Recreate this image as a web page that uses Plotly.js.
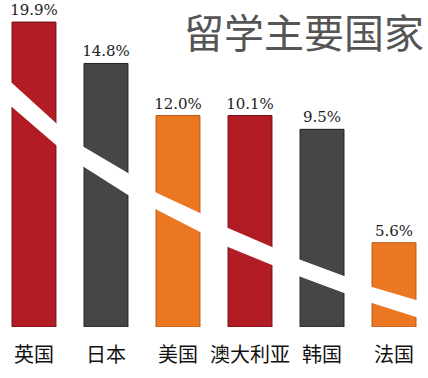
<!DOCTYPE html>
<html><head><meta charset="utf-8">
<script src="https://cdn.plot.ly/plotly-3.0.1.min.js"></script>
<style>html,body{margin:0;padding:0;background:#fff}#chart{width:428px;height:378px}</style>
</head><body><div id="chart"></div>
<script>
// Data
const categories = ['英国','日本','美国','澳大利亚','韩国','法国'];
const shareLabels = ['19.9%','14.8%','12.0%','10.1%','9.5%','5.6%'];
// Visual bar heights as drawn in the infographic (not proportional to labels)
const barHeights = [19.9, 17.2, 13.8, 13.8, 12.9, 5.5];
const barColors = ['#b21d25','#464646','#ec7722','#b21d25','#464646','#ec7722'];
const barLines = ['#6e0f14','#1e1e1e','#b85a16','#6e0f14','#1e1e1e','#b85a16'];
// Decorative white band crossing the bars
const bandX = [-0.47,-0.306,0.306,0.694,1.306,1.708,2.306,2.694,3.306,3.708,4.306,4.694,5.306,5.47];
const bandUpper = [16.6,15.92,13.31,11.75,10.05,8.74,7.44,6.46,5.22,4.37,3.33,2.61,1.76,1.53];
const bandLower = [15.06,14.36,11.88,10.44,8.61,7.63,6.20,5.22,4.05,3.26,2.22,1.57,0.65,0.40];

const xs = categories.map((c,i)=>i);
const bars = {
  type:'bar', x: xs, y: barHeights, width: 0.61,
  marker:{color: barColors, line:{color: barLines, width:1}},
  text: shareLabels, textposition:'outside', cliponaxis:false, constraintext:'none',
  textfont:{family:'DejaVu Serif, Liberation Serif, serif', size:15, color:'#222'},
  hoverinfo:'none'
};
const band = {
  type:'scatter', mode:'lines',
  x: bandX.concat(bandX.slice().reverse()),
  y: bandUpper.concat(bandLower.slice().reverse()),
  fill:'toself', fillcolor:'#ffffff', line:{color:'#ffffff', width:0},
  hoverinfo:'none'
};
const layout = {
  width:428, height:378,
  margin:{l:0, r:0, t:0, b:51},
  paper_bgcolor:'#fff', plot_bgcolor:'#fff',
  showlegend:false,
  xaxis:{range:[-0.472,5.472], tickvals: xs, ticktext: categories, showgrid:false, zeroline:false,
         showline:false, ticks:'outside', ticklen:10, tickcolor:'rgba(0,0,0,0)',
         tickfont:{family:'Noto Sans CJK SC', size:20, color:'#111'}, fixedrange:true},
  yaxis:{range:[0,21.34], visible:false, fixedrange:true},
  annotations:[{xref:'paper', yref:'paper', x:0.71, y:1, xanchor:'center', yanchor:'top',
    text:'留学主要国家', showarrow:false,
    font:{family:'Noto Sans CJK SC', size:40, color:'#555555'}}]
};
Plotly.newPlot('chart', [bars, band], layout, {staticPlot:true, displayModeBar:false});
</script></body></html>
